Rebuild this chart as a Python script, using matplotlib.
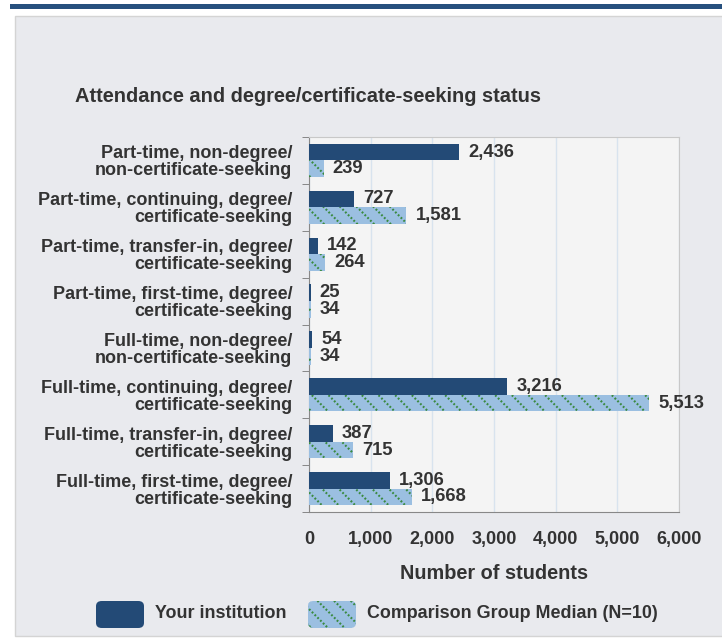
import numpy as np
import matplotlib.pyplot as plt
from matplotlib.patches import Rectangle, FancyBboxPatch

plt.rcParams['font.family'] = ['Liberation Sans', 'DejaVu Sans']
plt.rcParams['hatch.linewidth'] = 1.5

categories = [
    "Part-time, non-degree/\nnon-certificate-seeking",
    "Part-time, continuing, degree/\ncertificate-seeking",
    "Part-time, transfer-in, degree/\ncertificate-seeking",
    "Part-time, first-time, degree/\ncertificate-seeking",
    "Full-time, non-degree/\nnon-certificate-seeking",
    "Full-time, continuing, degree/\ncertificate-seeking",
    "Full-time, transfer-in, degree/\ncertificate-seeking",
    "Full-time, first-time, degree/\ncertificate-seeking",
]
institution = [2436, 727, 142, 25, 54, 3216, 387, 1306]
comparison = [239, 1581, 264, 34, 34, 5513, 715, 1668]
xticks = [0, 1000, 2000, 3000, 4000, 5000, 6000]

dark = "#234a76"
light = "#9bbfe1"
hatch_green = "#3a8a40"
txt = "#333333"

fig = plt.figure(figsize=(7.22, 6.39), dpi=100)
fig.patch.set_facecolor("white")

# top stripe and panel background
fig.patches.append(Rectangle((10/722, 1 - 9/639), 1, 5/639, transform=fig.transFigure,
                             facecolor="#27507e", edgecolor="none", zorder=-10))
fig.patches.append(Rectangle((15/722, 1 - 636/639), 1, 620/639, transform=fig.transFigure,
                             facecolor="#e9eaee", edgecolor="#d4d4d4", linewidth=1, zorder=-10))

ax = fig.add_axes([309/722, 127/639, 370/722, 375/639])
ax.set_facecolor("#f4f4f4")

y = np.arange(len(categories))
h = 0.355
ax.barh(y - h/2, institution, height=h, color=dark, zorder=3)
# green diagonal hatch, then cut into dots by a dense light-blue cross hatch
ax.barh(y + h/2, comparison, height=h, color=light, edgecolor=hatch_green,
        hatch="\\\\", linewidth=0, zorder=3)
ax.barh(y + h/2, comparison, height=h, color="none", edgecolor=light,
        hatch="//////", linewidth=0, zorder=4)

for i in range(len(categories)):
    ax.annotate(f"{institution[i]:,}", (institution[i], y[i] - h/2), xytext=(9, 0),
                textcoords="offset pixels", va="center", ha="left",
                fontsize=13.2, fontweight="bold", color=txt)
    ax.annotate(f"{comparison[i]:,}", (comparison[i], y[i] + h/2), xytext=(9, 0),
                textcoords="offset pixels", va="center", ha="left",
                fontsize=13.2, fontweight="bold", color=txt)

ax.set_xlim(0, 6000)
ax.set_ylim(len(categories) - 0.5, -0.5)
ax.set_xticks(xticks)
ax.set_xticklabels([f"{v:,}" for v in xticks], fontsize=13, fontweight="bold", color=txt)
ax.set_yticks(y)
ax.set_yticklabels(categories, fontsize=13, fontweight="bold", color=txt, linespacing=1.0)
ax.set_yticks(np.arange(len(categories) + 1) - 0.5, minor=True)
ax.tick_params(axis="y", which="major", length=0, pad=12)
ax.tick_params(axis="y", which="minor", length=5, color="#777777")
ax.tick_params(axis="x", length=0, pad=14)
ax.grid(axis="x", color="#d8e3ee", linewidth=1, zorder=0)
ax.set_axisbelow(True)

for side in ["top", "right"]:
    ax.spines[side].set_color("#c8c8c8")
ax.spines["left"].set_color("#888888")
ax.spines["bottom"].set_color("#888888")

ax.set_xlabel("Number of students", fontsize=14.3, fontweight="bold", color=txt, labelpad=11)

fig.text(75/722, 1 - 97/639, "Attendance and degree/certificate-seeking status",
         fontsize=14.4, fontweight="bold", color=txt, va="center", ha="left")

# legend
fig.patches.append(FancyBboxPatch((96/722, 1 - 628/639), 48/722, 27/639,
                                  boxstyle="round,pad=0,rounding_size=0.008",
                                  transform=fig.transFigure, facecolor=dark, edgecolor="none"))
fig.patches.append(FancyBboxPatch((308/722, 1 - 628/639), 48/722, 27/639,
                                  boxstyle="round,pad=0,rounding_size=0.008",
                                  transform=fig.transFigure, facecolor=light,
                                  edgecolor=hatch_green, hatch="\\\\", linewidth=0))
fig.patches.append(FancyBboxPatch((308/722, 1 - 628/639), 48/722, 27/639,
                                  boxstyle="round,pad=0,rounding_size=0.008",
                                  transform=fig.transFigure, facecolor="none",
                                  edgecolor=light, hatch="//////", linewidth=0))
fig.text(155/722, 1 - 614/639, "Your institution", fontsize=12.9, fontweight="bold",
         color=txt, va="center", ha="left")
fig.text(367/722, 1 - 614/639, "Comparison Group Median (N=10)", fontsize=12.9,
         fontweight="bold", color=txt, va="center", ha="left")

fig.savefig("out.png", dpi=100)
